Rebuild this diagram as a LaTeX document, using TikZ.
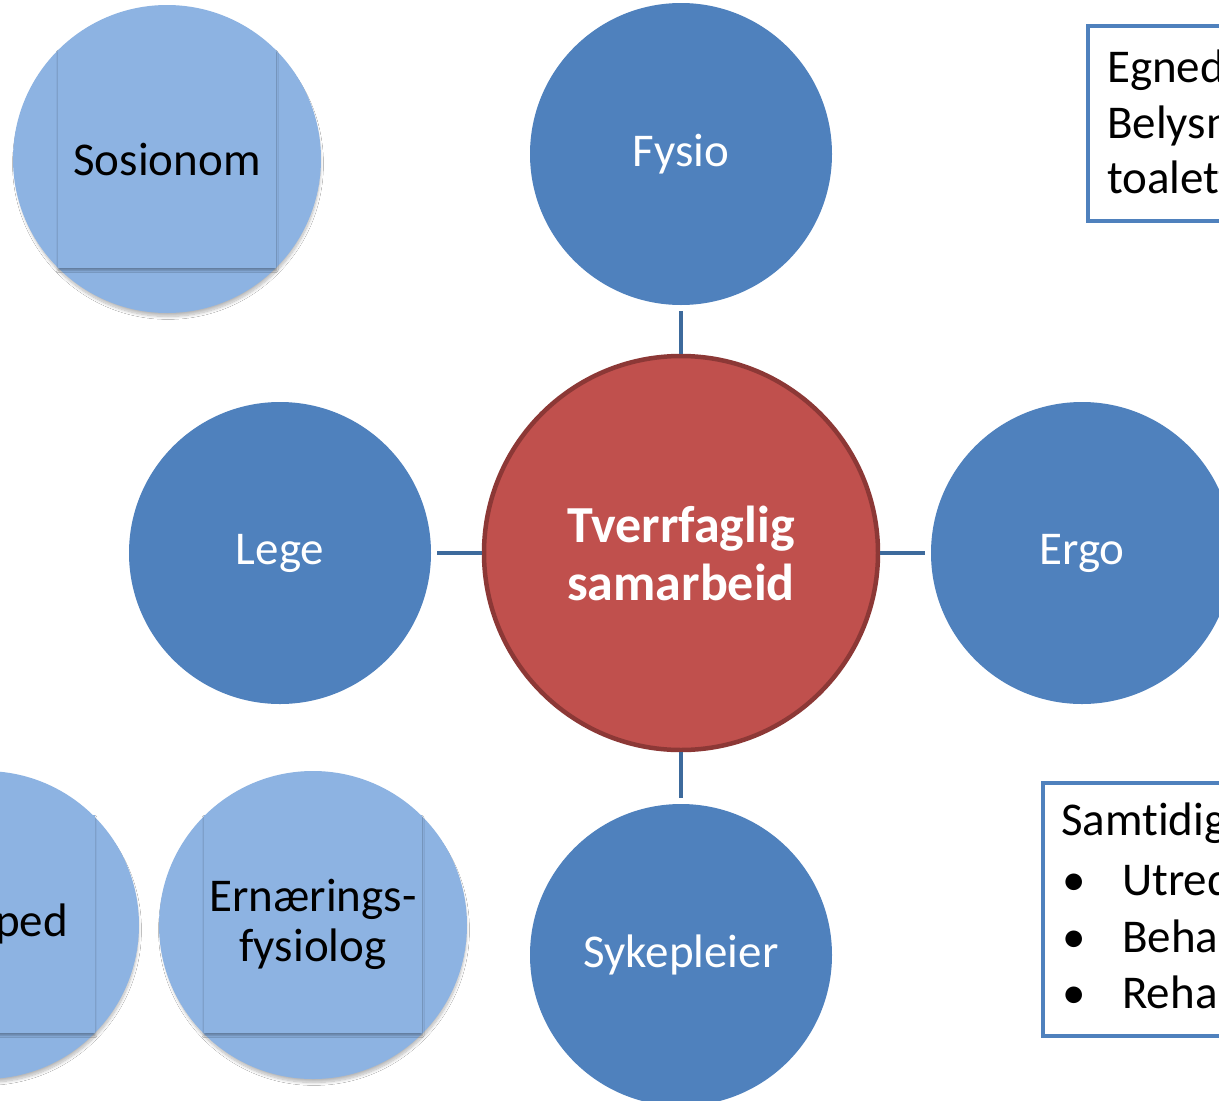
\documentclass[tikz,border=0pt]{standalone}
\usepackage{fontspec}
\setmainfont{Carlito}[Ligatures=NoCommon]
\usetikzlibrary{shadows.blur}

\definecolor{roleblue}{HTML}{4F81BD}
\definecolor{lightrole}{HTML}{8DB3E2}
\definecolor{linkblue}{HTML}{3D6A9C}
\definecolor{hubred}{HTML}{C0504D}
\definecolor{hubedge}{HTML}{8C3836}

\tikzset{
  role/.style={circle, fill=roleblue, minimum size=302pt, inner sep=0pt,
    text=white, font=\fontsize{47}{56}\selectfont},
  hub/.style={circle, fill=hubred, draw=hubedge, line width=4.5pt,
    minimum size=394pt, inner sep=0pt, text=white, align=center,
    font=\bfseries\fontsize{52}{58}\selectfont},
  extra/.style={circle, fill=lightrole, minimum size=308pt, inner sep=0pt,
    blur shadow={shadow xshift=1pt, shadow yshift=-5pt, shadow opacity=28,
      shadow blur radius=3pt, shadow blur steps=10, shadow scale=0.99}},
  card/.style={rectangle, fill=lightrole, minimum size=218pt, inner sep=0pt,
    align=center, text=black, font=\fontsize{47}{50}\selectfont,
    blur shadow={shadow xshift=0pt, shadow yshift=-2.5pt, shadow opacity=30,
      shadow blur radius=2pt, shadow blur steps=6}},
  link/.style={draw=linkblue, line width=4.5pt},
  notebox/.style={draw=roleblue, line width=4pt, fill=white},
  notetext/.style={anchor=base west, inner sep=0pt, text=black,
    font=\fontsize{47}{56}\selectfont},
}

\begin{document}
\begin{tikzpicture}[x=1pt, y=-1pt]
  \clip (0,0) rectangle (1219,1101);
  \fill[white] (0,0) rectangle (1219,1101);

  % central hub and the four linked professions
  \node[hub] (hub) at (681,553) {Tverrfaglig\\samarbeid};
  \node[role] (fysio) at (681,154) {Fysio};
  \node[role] (lege) at (280,553) {Lege};
  \node[role] (ergo) at (1082,553) {Ergo};
  \node[role] (syke) at (681,955) {Sykepleier};

  \draw[link, shorten >=6pt] (hub) -- (fysio);
  \draw[link, shorten >=6pt] (hub) -- (lege);
  \draw[link, shorten >=6pt] (hub) -- (ergo);
  \draw[link, shorten >=6pt] (hub) -- (syke);

  % additional professions, each a circle with a card on top
  \node[extra] (sosC) at (167,159) {};
  \node[card] (sos) at (167,159) {Sosionom};

  \node[extra] (logC) at (-15,925) {};
  \node[card] (log) at (-14,924) {Logoped};

  \node[extra] (ernC) at (313,925) {};
  \node[card] (ern) at (313,924) {Ernærings-\\fysiolog};

  % note boxes on the right
  \node[notebox, minimum width=160pt, minimum height=195pt, anchor=north west]
    (noteA) at (1086,24) {};
  \node[notetext] (a1) at (1107,82) {Egnede};
  \node[notetext] (a2) at (1107,138) {Belysning};
  \node[notetext] (a3) at (1107,193) {toalett};

  \node[notebox, minimum width=200pt, minimum height=253pt, anchor=north west]
    (noteB) at (1041,781) {};
  \node[notetext] (b0) at (1061,835) {Samtidig};
  \node[notetext] (b1d) at (1062,895) {•};
  \node[notetext] (b1) at (1122,895) {Utredning};
  \node[notetext] (b2d) at (1062,952) {•};
  \node[notetext] (b2) at (1122,952) {Behandling};
  \node[notetext] (b3d) at (1062,1008) {•};
  \node[notetext] (b3) at (1122,1008) {Rehabilitering};
\end{tikzpicture}
\end{document}
